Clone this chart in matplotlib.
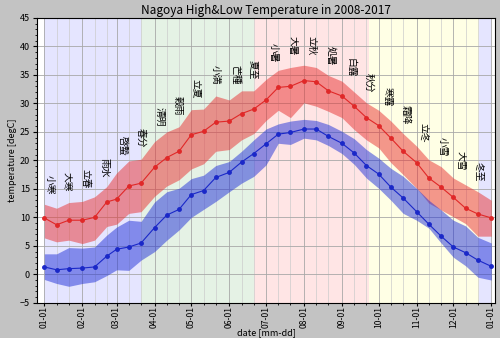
import datetime as dt
import numpy as np
import matplotlib
matplotlib.use("Agg")
import matplotlib.pyplot as plt
import matplotlib.dates as mdates
from matplotlib.ticker import MultipleLocator

plt.rcParams['font.family'] = ['Noto Sans CJK JP', 'DejaVu Sans']

# dekad points (1st, 11th, 21st of each month) + closing Jan 1
dates = [dt.date(2017, m, d) for m in range(1, 13) for d in (1, 11, 21)] + [dt.date(2018, 1, 1)]

high_mean = [9.9, 8.7, 9.5, 9.5, 10.0, 12.7, 13.2, 15.5, 16.0,
             18.8, 20.5, 21.6, 24.5, 25.1, 26.7, 26.9, 28.2, 29.0,
             30.6, 32.8, 33.0, 34.0, 33.8, 32.2, 31.3, 29.5, 27.5,
             26.1, 23.9, 21.6, 19.6, 16.9, 15.3, 13.5, 11.6, 10.6, 9.9]
high_max = [12.3, 11.6, 12.6, 12.8, 13.6, 15.4, 17.8, 19.9, 20.2,
            23.3, 25.0, 25.9, 28.9, 29.0, 31.3, 30.6, 32.2, 32.2,
            34.2, 35.8, 36.3, 36.7, 36.3, 34.9, 33.9, 32.0, 30.1,
            28.8, 26.9, 24.7, 22.5, 20.1, 18.9, 16.9, 15.7, 14.5, 13.0]
high_min = [6.4, 5.7, 6.0, 5.4, 6.0, 8.4, 8.8, 10.7, 11.0,
            13.7, 15.5, 16.6, 18.5, 19.4, 21.6, 21.9, 23.6, 24.7,
            27.0, 28.8, 27.5, 30.1, 29.5, 28.6, 27.5, 25.4, 23.6,
            22.2, 19.6, 17.5, 15.1, 12.5, 11.3, 10.1, 8.9, 6.7, 6.7]

low_mean = [1.3, 0.8, 1.0, 1.1, 1.3, 3.2, 4.4, 4.8, 5.5,
            8.2, 10.4, 11.4, 14.0, 14.7, 17.0, 17.9, 19.7, 21.2,
            22.9, 24.6, 24.9, 25.5, 25.5, 24.2, 23.0, 21.3, 19.1,
            17.6, 15.3, 13.4, 11.0, 8.8, 6.7, 4.8, 3.8, 2.5, 1.4]
low_max = [3.6, 3.6, 4.7, 4.6, 4.8, 6.9, 8.3, 9.5, 9.3,
           12.7, 14.5, 15.1, 16.8, 17.4, 19.1, 19.8, 21.6, 23.6,
           25.5, 26.4, 26.9, 27.2, 27.0, 26.3, 25.1, 23.8, 21.9,
           20.4, 18.6, 17.2, 15.1, 13.0, 11.3, 9.5, 8.5, 6.5, 5.5]
low_min = [-0.9, -1.6, -2.1, -1.6, -1.3, -0.2, 0.8, 0.7, 2.5,
           4.0, 6.0, 7.8, 10.0, 11.4, 12.8, 14.5, 16.0, 17.2,
           19.2, 23.0, 22.8, 23.9, 23.6, 22.6, 21.2, 19.3, 16.9,
           15.1, 13.0, 10.7, 9.5, 8.1, 5.5, 3.0, 1.5, -0.5, -1.0]

sekki_names = ['小寒', '大寒', '立春', '雨水', '啓蟄', '春分', '清明', '穀雨',
               '立夏', '小満', '芒種', '夏至', '小暑', '大暑', '立秋', '処暑',
               '白露', '秋分', '寒露', '霜降', '立冬', '小雪', '大雪', '冬至']
sekki_dates = [(1, 5), (1, 20), (2, 4), (2, 19), (3, 6), (3, 21), (4, 5), (4, 20),
               (5, 5), (5, 21), (6, 6), (6, 21), (7, 7), (7, 23), (8, 7), (8, 23),
               (9, 8), (9, 23), (10, 8), (10, 23), (11, 7), (11, 22), (12, 7), (12, 22)]

season_edges = [dt.date(2017, 1, 1), dt.date(2017, 3, 21), dt.date(2017, 6, 21),
                dt.date(2017, 9, 23), dt.date(2017, 12, 22), dt.date(2018, 1, 1)]
season_colors = ['blue', 'green', 'red', 'yellow', 'blue']

x = mdates.date2num(dates)

fig = plt.figure(figsize=(5, 3.38), dpi=100, facecolor='#c3c3c3')
ax = fig.add_axes([0.074, 0.104, 0.916, 0.843])

for i, c in enumerate(season_colors):
    ax.axvspan(season_edges[i], season_edges[i + 1], color=c, alpha=0.1, lw=0, zorder=0)

ax.fill_between(x, high_min, high_max, color='#e83030', alpha=0.5, lw=0, zorder=2)
ax.fill_between(x, low_min, low_max, color='#2030d8', alpha=0.5, lw=0, zorder=2)
ax.plot(x, high_mean, '-o', color='#e02828', lw=0.8, ms=2.5, zorder=3)
ax.plot(x, low_mean, '-o', color='#1a28c8', lw=0.8, ms=2.5, zorder=3)

for name, (m, d) in zip(sekki_names, sekki_dates):
    xs = mdates.date2num(dt.date(2017, m, d))
    ys = np.interp(xs, x, high_max) + 2.0
    ax.text(xs, ys, name, rotation=-90, ha='center', va='bottom', fontsize=7)

ax.set_xlim(dt.date(2016, 12, 26), dt.date(2018, 1, 4))
ax.set_ylim(-5, 45)
ax.xaxis.set_major_locator(mdates.MonthLocator())
ax.xaxis.set_minor_locator(mdates.DayLocator(bymonthday=[11, 21]))
ax.xaxis.set_major_formatter(mdates.DateFormatter('%m-%d'))
ax.yaxis.set_major_locator(MultipleLocator(5))
ax.yaxis.set_minor_locator(MultipleLocator(1))
ax.grid(which='major', color='#a8a8a8', lw=0.6, zorder=1)
ax.grid(which='minor', axis='x', color='#cccccc', lw=0.5, zorder=1)
ax.set_axisbelow(True)
ax.tick_params(which='major', labelsize=6.5, length=3, pad=2)
ax.tick_params(axis='x', which='major', length=2, pad=0.5)
ax.tick_params(which='minor', length=1.5)
for lbl in ax.get_xticklabels():
    lbl.set_rotation(90)
    lbl.set_fontfamily(['Liberation Sans Narrow', 'Noto Sans CJK JP'])
    lbl.set_fontsize(6.2)

ax.set_title('Nagoya High&Low Temperature in 2008-2017', fontsize=8.5, pad=3)
ax.set_ylabel('temperature [degC]', fontsize=6.5, labelpad=2)
ax.set_xlabel('date [mm-dd]', fontsize=6.5)
ax.xaxis.set_label_coords(0.5, -0.09)

fig.savefig('out.png', dpi=100, facecolor=fig.get_facecolor())
